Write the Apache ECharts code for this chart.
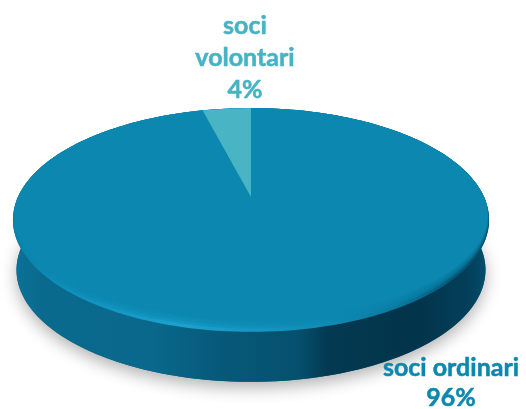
<!DOCTYPE html>
<html><head><meta charset="utf-8">
<style>html,body{margin:0;padding:0;background:#fff}#c{width:526px;height:409px}</style>
<script src="https://cdn.jsdelivr.net/npm/echarts@6/dist/echarts.min.js"></script>
</head><body><div id="c"></div>
<script>
const categories = ['soci ordinari', 'soci volontari'];
const values = [96, 4];
const faceColors = ['#0b87b0', '#48b4c4'];
const labelColors = ['#0b87b0', '#45b3c5'];

const total = values.reduce((a, b) => a + b, 0);
const starts = [];
values.reduce((acc, v, i) => { starts[i] = acc; return acc + v; }, 0);

// tilted-disc projection
const CX = 251, K = 233, Y0 = 197, A = -66.8, C = 0.205, DEPTH = 50;
function project(u, v) {
  const w = 1 + C * v;
  return [CX + K * u / w, (A * v + Y0) / w];
}
function arc(fromFrac, toFrac, map) {
  const pts = [];
  const n = Math.max(2, Math.ceil((toFrac - fromFrac) * 240));
  for (let i = 0; i <= n; i++) {
    const a = (fromFrac + (toFrac - fromFrac) * i / n) * 2 * Math.PI;
    const p = project(Math.sin(a), Math.cos(a));
    pts.push(map ? map(p) : p);
  }
  return pts;
}
const lower = p => [CX + (p[0] - CX) * 0.985, p[1] + DEPTH];
// bevel: the front of the rim is pulled in, the back stays on the outline
const inset = t => p => {
  const b = Math.max(0, Math.min(1, (p[1] - 190) / 130));
  return [CX + (p[0] - CX) * (1 - 0.022 * t * b), p[1] - 11 * t * b];
};
const grad = (x0, y0, x1, y1, stops) => new echarts.graphic.LinearGradient(x0, y0, x1, y1,
  stops.map(s => ({ offset: s[0], color: s[1] })));

function renderBody(params) {
  const i = params.dataIndex;
  const from = starts[i] / total, to = (starts[i] + values[i]) / total;
  const children = [];
  if (i === 0) {
    children.push({ type: 'polygon', shape: { points: arc(0, 1, lower) },
      style: { fill: '#0a5f80', shadowBlur: 16, shadowColor: 'rgba(0,0,0,0.30)', shadowOffsetY: 6 } });
  }
  const top = arc(from, to), bottom = arc(from, to, lower).reverse();
  children.push({ type: 'polygon', shape: { points: top.concat(bottom) },
    style: { fill: grad(0, 0, 1, 0, [[0, '#0a7299'], [0.06, '#0a6a8d'], [0.3, '#09688b'], [0.42, '#075a7b'], [0.6, '#05506e'],
      [0.66, '#033a52'], [0.85, '#02344a'], [0.96, '#03405b'], [1, '#05506f']]) } });
  return { type: 'group', children };
}

function renderTop(params) {
  const i = params.dataIndex;
  const from = starts[i] / total, to = (starts[i] + values[i]) / total;
  const children = [];
  const apex = project(0, 0);
  if (i === 0) {
    children.push({ type: 'polygon', shape: { points: arc(0, 1) },
      style: { fill: grad(0, 0, 1, 0, [[0, '#0a7ea8'], [0.1, '#0f8ebb'], [0.35, '#1ba2cf'], [0.6, '#1290bb'], [0.8, '#0a7ba3'], [0.92, '#05597a'], [1, '#054c6a']]) } });
    [0.3, 0.55, 0.8].forEach(t => children.push({ type: 'polygon', shape: { points: arc(0, 1, inset(t)) },
      style: { fill: faceColors[i], opacity: 0.45 } }));
    children.push({ type: 'polygon', shape: { points: [apex].concat(arc(from, to, inset(1))) },
      style: { fill: faceColors[i] } });
  } else {
    children.push({ type: 'polygon', shape: { points: [apex].concat(arc(from, to)) },
      style: { fill: faceColors[i] } });
  }
  return { type: 'group', children };
}

function renderLabel(params) {
  const i = params.dataIndex;
  const name = categories[i];
  const lines = i === 1 ? name.split(' ') : [name];
  const text = lines.concat([values[i] + '%']).join('\n');
  const anchor = i === 1 ? [245, 58] : [451, 383];
  return { type: 'text', x: anchor[0], y: anchor[1],
    style: { text, fill: labelColors[i], stroke: labelColors[i], lineWidth: 0.5,
      font: 'bold 25px Lato', lineHeight: i === 1 ? 32 : 30, align: 'center', verticalAlign: 'middle' } };
}

const chart = echarts.init(document.getElementById('c'), null, { renderer: 'canvas' });
const data = values.map((v, i) => ({ name: categories[i], value: v }));
chart.setOption({
  animation: false,
  backgroundColor: '#fff',
  series: [
    { type: 'custom', coordinateSystem: 'none', renderItem: renderBody, data, z: 1, silent: true },
    { type: 'custom', coordinateSystem: 'none', renderItem: renderTop, data, z: 2, silent: true },
    { type: 'custom', coordinateSystem: 'none', renderItem: renderLabel, data, z: 3, silent: true }
  ]
});
</script></body></html>
